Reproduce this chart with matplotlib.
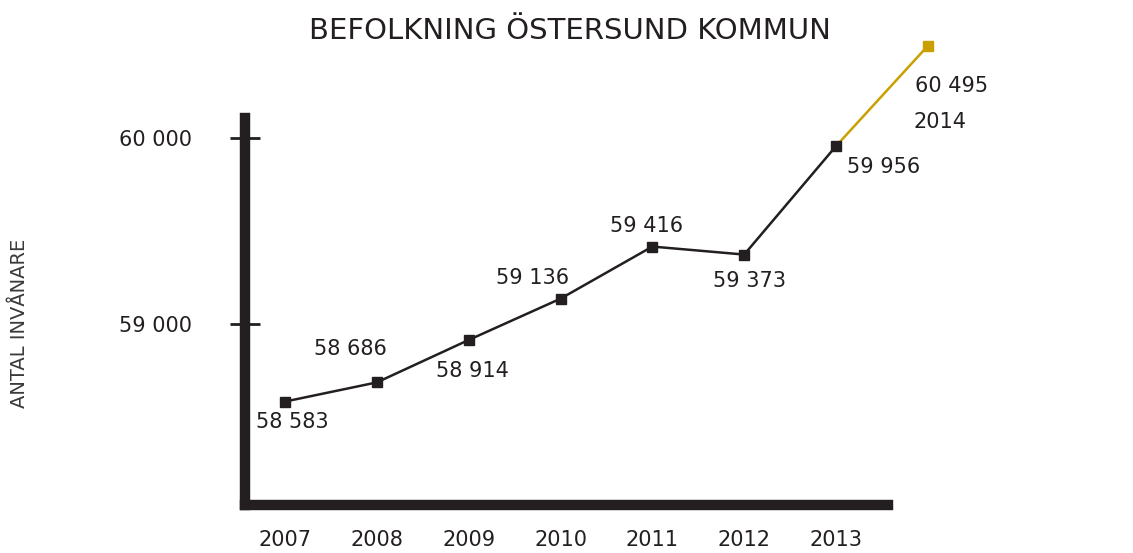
import matplotlib.pyplot as plt

years = [2007, 2008, 2009, 2010, 2011, 2012, 2013]
population = [58583, 58686, 58914, 59136, 59416, 59373, 59956]
forecast_year = [2013, 2014]
forecast_pop = [59956, 60495]
ytick_vals = [59000, 60000]
ytick_labels = ["59 000", "60 000"]

# label offsets in points (dx, dy) relative to each point
label_offsets = [(5, -15), (-19, 24), (3, -22), (-20, 15), (-4, 15), (4, -19), (34, -15)]

plt.rcParams['font.family'] = ['DejaVu Sans']
dark = '#231f20'
gold = '#c9a000'
fs = 15

fig = plt.figure(figsize=(11.33, 5.53), dpi=100)
ax = fig.add_axes([245/1133, 48/553, 643/1133, 387/553])

ax.plot(years, population, color=dark, lw=1.8, marker='s', ms=7, zorder=3)
ax.plot(forecast_year, forecast_pop, color=gold, lw=1.8, zorder=2, clip_on=False)
ax.plot(forecast_year[1:], forecast_pop[1:], color=gold, marker='s', ms=7,
        ls='none', clip_on=False)

def fmt(v):
    return f"{v:,}".replace(",", " ")

for x, y, (dx, dy) in zip(years, population, label_offsets):
    ax.annotate(fmt(y), (x, y), xytext=(dx, dy), textcoords='offset points',
                ha='center', va='center', fontsize=fs, color=dark)
ax.annotate(fmt(forecast_pop[1]), (forecast_year[1], forecast_pop[1]), xytext=(17, -29),
            textcoords='offset points', ha='center', va='center', fontsize=fs,
            color=dark, annotation_clip=False)
ax.annotate(str(forecast_year[1]), (forecast_year[1], forecast_pop[1]), xytext=(9, -55),
            textcoords='offset points', ha='center', va='center', fontsize=fs,
            color=dark, annotation_clip=False)

ax.set_xlim(2006.564, 2013.566)
ax.set_ylim(58027, 60107)

for s in ['top', 'right']:
    ax.spines[s].set_visible(False)
for s in ['left', 'bottom']:
    ax.spines[s].set_linewidth(7.5)
    ax.spines[s].set_color(dark)
    ax.spines[s].set_capstyle('projecting')

ax.set_xticks(years)
ax.set_xticklabels([str(y) for y in years], fontsize=fs, color=dark)
ax.tick_params(axis='x', length=0, pad=18)
ax.set_yticks(ytick_vals)
ax.set_yticklabels(ytick_labels, fontsize=fs, color=dark)
ax.tick_params(axis='y', direction='inout', length=21, width=2, color=dark, pad=28)

fig.text(20/1133, 1 - 323/553, "ANTAL INVÅNARE", rotation=90, ha='center', va='center',
         fontsize=14, color='#3a3a3a')
fig.text(570/1133, 1 - 31/553, "BEFOLKNING ÖSTERSUND KOMMUN", ha='center', va='center',
         fontsize=21, color=dark)

fig.savefig('out.png', dpi=100)
